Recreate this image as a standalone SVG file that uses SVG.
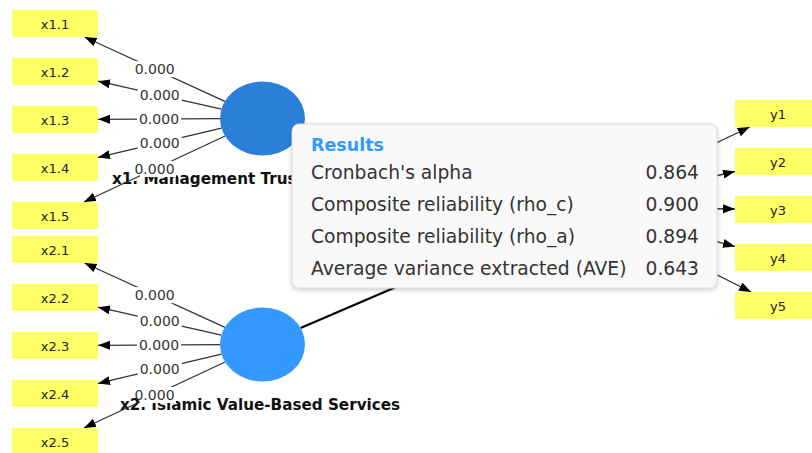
<svg xmlns="http://www.w3.org/2000/svg" width="812" height="453" viewBox="0 0 812 453">
  <style>
    .ind rect { fill: #ffff66; }
    .ind text { font-family: "DejaVu Sans", sans-serif; font-size: 13px; fill: #222; text-anchor: middle; }
    .lv-label { font-family: "DejaVu Sans", sans-serif; font-weight: bold; font-size: 15.2px; fill: #111; }
    .load rect { fill: #ffffff; }
    .load text { font-family: "DejaVu Sans", sans-serif; font-size: 14px; fill: #333; text-anchor: middle; }
    .conn line { stroke: #333; stroke-width: 1.3; fill: none; }
    .conn line.arrow { marker-end: url(#head); }
    .conn line.path { stroke: #000; stroke-width: 2.2; }
    .panel-title { font-family: "DejaVu Sans", sans-serif; font-weight: bold; font-size: 17.5px; fill: #3399ff; }
    .panel-row { font-family: "DejaVu Sans", sans-serif; font-size: 18.7px; fill: #333; }
    .panel-val { font-family: "DejaVu Sans", sans-serif; font-size: 18.7px; fill: #333; text-anchor: end; }
  </style>
  <defs>
    <marker id="head" markerUnits="userSpaceOnUse" markerWidth="13" markerHeight="10" refX="12" refY="4.5" orient="auto">
      <path d="M0,0 L12,4.5 L0,9 z" fill="#000"/>
    </marker>
    <filter id="shadow" x="-5%" y="-10%" width="110%" height="125%">
      <feDropShadow dx="0" dy="1.5" stdDeviation="2" flood-color="#000" flood-opacity="0.22"/>
    </filter>
  </defs>
  <rect width="812" height="453" fill="#ffffff"/>

  <!-- construct names sit under the loading lines -->
  <g id="x1-name">
    <text class="lv-label" x="112" y="184">x1. Management Trust</text>
  </g>
  <g id="x2-name">
    <text class="lv-label" x="260" y="410" text-anchor="middle">x2. Islamic Value-Based Services</text>
  </g>

  <!-- connectors: loadings and structural path -->
  <g id="connectors" class="conn">
    <line class="arrow" x1="224.9" y1="101.3" x2="84.5" y2="37"/>
    <line class="arrow" x1="221.4" y1="109.2" x2="98" y2="81.2"/>
    <line class="arrow" x1="220" y1="118.7" x2="98" y2="119.3"/>
    <line class="arrow" x1="221.5" y1="128.2" x2="98" y2="157.4"/>
    <line class="arrow" x1="225.1" y1="136" x2="83.9" y2="202"/>

    <line class="arrow" x1="224.9" y1="327.3" x2="84.5" y2="263"/>
    <line class="arrow" x1="221.4" y1="335.2" x2="98" y2="307.2"/>
    <line class="arrow" x1="220" y1="344.7" x2="98" y2="345.3"/>
    <line class="arrow" x1="221.5" y1="354.2" x2="98" y2="383.4"/>
    <line class="arrow" x1="225.1" y1="362" x2="83.9" y2="428"/>

    <line class="path" x1="300.6" y1="328.1" x2="543.9" y2="223.4"/>

    <line class="arrow" x1="619.3" y1="189.2" x2="749.7" y2="127"/>
    <line class="arrow" x1="623.1" y1="197.5" x2="735" y2="171.5"/>
    <line class="arrow" x1="624.5" y1="207.5" x2="735" y2="209"/>
    <line class="arrow" x1="622.7" y1="217.5" x2="735" y2="246.4"/>
    <line class="arrow" x1="618.8" y1="225.5" x2="751.1" y2="292"/>
  </g>

  <!-- indicator boxes -->
  <g id="x1.1" class="ind"><rect x="12" y="10" width="86" height="27"/><text x="55" y="28.5">x1.1</text></g>
  <g id="x1.2" class="ind"><rect x="12" y="58" width="86" height="27"/><text x="55" y="76.5">x1.2</text></g>
  <g id="x1.3" class="ind"><rect x="12" y="106" width="86" height="27"/><text x="55" y="124.5">x1.3</text></g>
  <g id="x1.4" class="ind"><rect x="12" y="154" width="86" height="27"/><text x="55" y="172.5">x1.4</text></g>
  <g id="x1.5" class="ind"><rect x="12" y="202" width="86" height="27"/><text x="55" y="220.5">x1.5</text></g>

  <g id="x2.1" class="ind"><rect x="12" y="236" width="86" height="27"/><text x="55" y="254.5">x2.1</text></g>
  <g id="x2.2" class="ind"><rect x="12" y="284" width="86" height="27"/><text x="55" y="302.5">x2.2</text></g>
  <g id="x2.3" class="ind"><rect x="12" y="332" width="86" height="27"/><text x="55" y="350.5">x2.3</text></g>
  <g id="x2.4" class="ind"><rect x="12" y="380" width="86" height="27"/><text x="55" y="398.5">x2.4</text></g>
  <g id="x2.5" class="ind"><rect x="12" y="428" width="86" height="27"/><text x="55" y="446.5">x2.5</text></g>

  <g id="y1" class="ind"><rect x="735" y="100" width="86" height="27"/><text x="778" y="118.5">y1</text></g>
  <g id="y2" class="ind"><rect x="735" y="148" width="86" height="27"/><text x="778" y="166.5">y2</text></g>
  <g id="y3" class="ind"><rect x="735" y="196" width="86" height="27"/><text x="778" y="214.5">y3</text></g>
  <g id="y4" class="ind"><rect x="735" y="244" width="86" height="27"/><text x="778" y="262.5">y4</text></g>
  <g id="y5" class="ind"><rect x="735" y="292" width="86" height="27"/><text x="778" y="310.5">y5</text></g>

  <!-- latent constructs -->
  <g id="x1">
    <ellipse cx="262.5" cy="118.5" rx="42.5" ry="37" fill="#2a80d8"/>
  </g>
  <g id="x2">
    <ellipse cx="262.5" cy="344.5" rx="42.5" ry="37" fill="#3399ff"/>
  </g>

  <!-- loading values -->
  <g id="loadings" class="load">
    <rect x="132.7" y="61.2" width="44" height="16"/><text x="154.7" y="74.2">0.000</text>
    <rect x="137.7" y="87.2" width="44" height="16"/><text x="159.7" y="100.2">0.000</text>
    <rect x="137" y="111" width="44" height="16"/><text x="159" y="124">0.000</text>
    <rect x="137.7" y="134.8" width="44" height="16"/><text x="159.7" y="147.8">0.000</text>
    <rect x="140" y="161" width="36" height="16"/><text x="154.5" y="174">0.000</text>

    <rect x="132.7" y="287.2" width="44" height="16"/><text x="154.7" y="300.2">0.000</text>
    <rect x="137.7" y="313.2" width="44" height="16"/><text x="159.7" y="326.2">0.000</text>
    <rect x="137" y="337" width="44" height="16"/><text x="159" y="350">0.000</text>
    <rect x="137.7" y="360.8" width="44" height="16"/><text x="159.7" y="373.8">0.000</text>
    <rect x="140" y="387" width="36" height="16"/><text x="154.5" y="400">0.000</text>
  </g>

  <!-- results tooltip -->
  <g id="results">
    <rect x="292" y="124" width="425" height="164" rx="7" fill="#f9f9f9" stroke="#dcdcdc" stroke-width="1" filter="url(#shadow)"/>
    <text class="panel-title" x="311" y="151">Results</text>
    <text class="panel-row" x="311" y="178.5">Cronbach's alpha</text>
    <text class="panel-val" x="699" y="178.5">0.864</text>
    <text class="panel-row" x="311" y="210.5">Composite reliability (rho_c)</text>
    <text class="panel-val" x="699" y="210.5">0.900</text>
    <text class="panel-row" x="311" y="242.5">Composite reliability (rho_a)</text>
    <text class="panel-val" x="699" y="242.5">0.894</text>
    <text class="panel-row" x="311" y="274.5">Average variance extracted (AVE)</text>
    <text class="panel-val" x="699" y="274.5">0.643</text>
  </g>
</svg>
